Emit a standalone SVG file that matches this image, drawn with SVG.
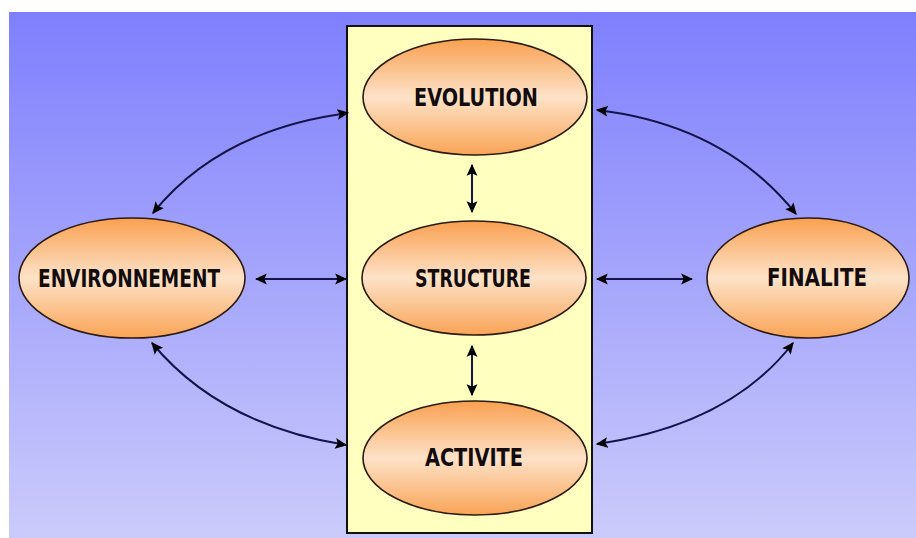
<svg xmlns="http://www.w3.org/2000/svg" width="916" height="538" viewBox="0 0 916 538">
  <defs>
    <linearGradient id="bg" x1="0" y1="0" x2="0" y2="1">
      <stop offset="0" stop-color="#7f7ffd"/>
      <stop offset="1" stop-color="#cbcbfb"/>
    </linearGradient>
    <linearGradient id="egg" x1="0" y1="0" x2="0" y2="1">
      <stop offset="0" stop-color="#f9a050"/>
      <stop offset="0.5" stop-color="#fde2c8"/>
      <stop offset="1" stop-color="#f9a456"/>
    </linearGradient>
    <marker id="head" viewBox="0 0 10 10" refX="9" refY="5" markerWidth="12" markerHeight="12" markerUnits="userSpaceOnUse" orient="auto-start-reverse">
      <path d="M0,0.5 L10,5 L0,9.5 L2,5 Z" fill="#000"/>
    </marker>
    <style>
      .node ellipse { fill: url(#egg); stroke: #2a1a10; stroke-width: 1.6; }
      .node text { font-family: "Liberation Sans Narrow", "DejaVu Sans Condensed", "Liberation Sans", sans-serif; font-weight: bold; font-size: 24px; fill: #140c0c; text-anchor: middle; }
      .link { fill: none; stroke: #14144a; stroke-width: 2; marker-start: url(#head); marker-end: url(#head); }
    </style>
  </defs>

  <rect x="0" y="0" width="916" height="538" fill="#ffffff"/>
  <rect x="9" y="12" width="907" height="526" fill="url(#bg)"/>
  <rect id="system-box" x="347" y="26" width="245" height="507" fill="#ffffc0" stroke="#111" stroke-width="2"/>

  <g id="connectors">
    <path class="link" d="M153,213 Q220,130 348,113"/>
    <path class="link" d="M597,110 Q725,125 796,214"/>
    <path class="link" d="M152,343 Q220,425 346,445"/>
    <path class="link" d="M793,343 Q730,425 597,444"/>
    <path class="link" d="M256,279 L346,279"/>
    <path class="link" d="M597,279 L692,279"/>
    <path class="link" d="M472,165 L472,212"/>
    <path class="link" d="M472,346 L472,395"/>
  </g>

  <g id="evolution" class="node">
    <ellipse cx="475" cy="97" rx="112" ry="58"/>
    <text x="476" y="106" textLength="124" lengthAdjust="spacingAndGlyphs">EVOLUTION</text>
  </g>
  <g id="structure" class="node">
    <ellipse cx="474" cy="278" rx="112" ry="57"/>
    <text x="473" y="287" textLength="116" lengthAdjust="spacingAndGlyphs">STRUCTURE</text>
  </g>
  <g id="activite" class="node">
    <ellipse cx="475" cy="458" rx="112" ry="57"/>
    <text x="474" y="466" textLength="98" lengthAdjust="spacingAndGlyphs">ACTIVITE</text>
  </g>
  <g id="environnement" class="node">
    <ellipse cx="132" cy="278" rx="113" ry="60"/>
    <text x="129" y="287" textLength="182" lengthAdjust="spacingAndGlyphs">ENVIRONNEMENT</text>
  </g>
  <g id="finalite" class="node">
    <ellipse cx="808" cy="278" rx="101" ry="60"/>
    <text x="817" y="286" textLength="100" lengthAdjust="spacingAndGlyphs">FINALITE</text>
  </g>
</svg>
